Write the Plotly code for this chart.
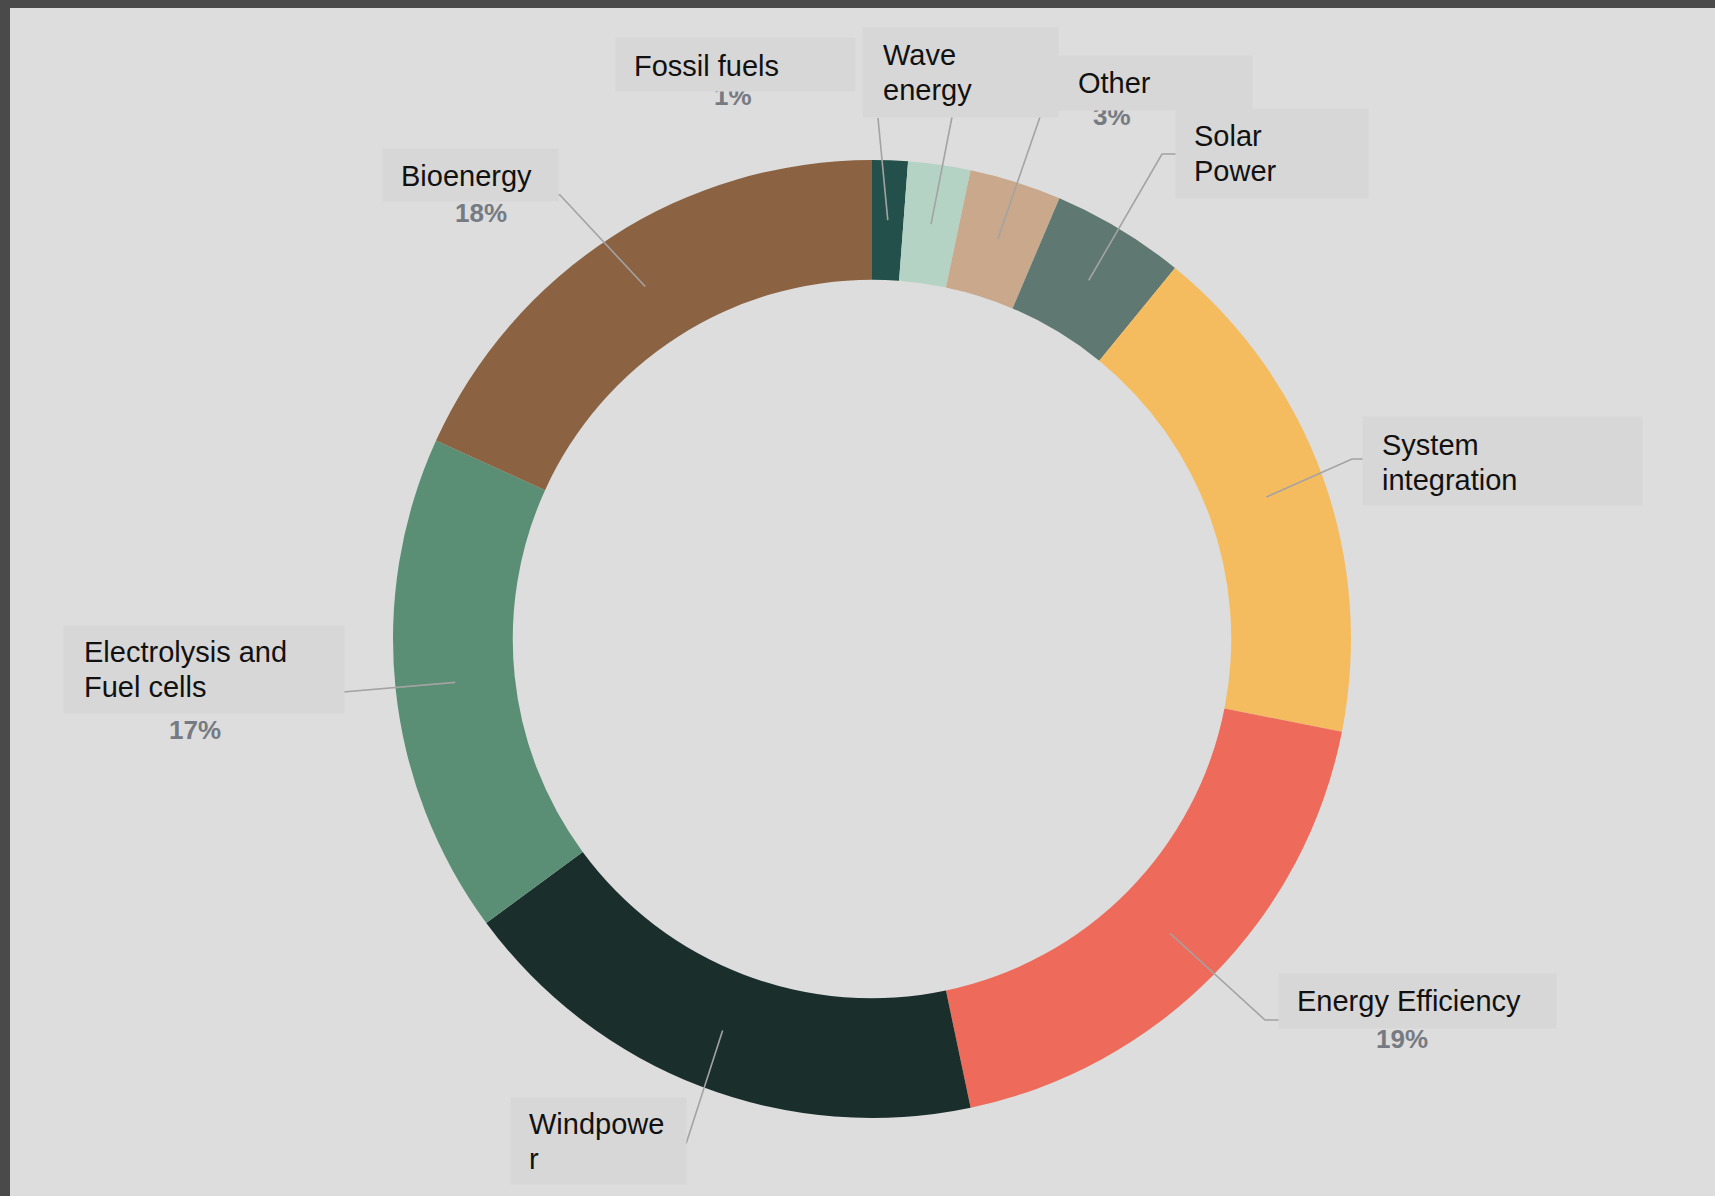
import math
import plotly.graph_objects as go

# ---------------- data ----------------
categories = ["Fossil fuels", "Wave energy", "Other", "Solar Power", "System integration",
              "Energy Efficiency", "Windpower", "Electrolysis and Fuel cells", "Bioenergy"]
values = [1.2, 2.1, 3.1, 4.5, 17.2, 18.6, 18.2, 16.9, 18.2]
label_lines = [["Fossil fuels"], ["Wave", "energy"], ["Other"], ["Solar", "Power"],
               ["System", "integration"], ["Energy Efficiency"], ["Windpowe", "r"],
               ["Electrolysis and", "Fuel cells"], ["Bioenergy"]]
pct_texts = ["1%", None, "3%", None, None, "19%", None, "17%", "18%"]
colors = ["#24504B", "#B5D3C5", "#C9A88C", "#5F7872", "#F5BC5F",
          "#EE6A5A", "#1A2E2C", "#5B8F75", "#8B6242"]

# ---------------- layout (pixels) ----------------
W, H = 1715, 1196
CX, CY, R = 872, 639, 479
HOLE = 0.75
BG = "#DCDDDC"
BOX = "#D7D7D7"
LINE_GAP = 35

# label boxes: x0, y0, x1, y1 (pixels, top-left origin)
boxes = [(615, 37, 854, 90), (862, 27, 1057, 116), (1057, 55, 1251, 109), (1175, 108, 1367, 197),
         (1362, 416, 1641, 504), (1278, 973, 1555, 1027), (510, 1097, 685, 1183),
         (63, 625, 343, 712), (382, 148, 557, 200)]
# left x and centre y of first text line
text_pos = [(632, 66), (881, 55), (1076, 83), (1192, 136), (1380, 445), (1295, 1001),
            (527, 1124), (82, 652), (399, 176)]
pct_pos = [(733, 96), None, (1112, 116), None, None, (1402, 1039), None, (195, 730), (481, 213)]
# leader line routes after the slice point (pixels)
leader_routes = [[(878, 118)], [(952, 117)], [(1040, 117)], [(1162, 154), (1176, 154)],
                 [(1352, 459), (1363, 459)], [(1265, 1020), (1279, 1020)], [(686, 1144)],
                 [(343, 692)], [(560, 195), (557, 195)]]


def px(x):
    return x / W


def py(y):
    return 1 - y / H


fig = go.Figure()
fig.add_trace(go.Pie(
    labels=categories, values=values, sort=False, direction="clockwise", rotation=0,
    hole=HOLE, marker=dict(colors=colors, line=dict(width=0)), textinfo="none",
    showlegend=False,
    domain=dict(x=[px(CX - R), px(CX + R)], y=[py(CY + R), py(CY - R)]),
))

shapes = []
# frame border
shapes.append(dict(type="rect", xref="paper", yref="paper", x0=0, x1=px(10), y0=0, y1=1,
                   fillcolor="#4A4A4A", line=dict(width=0), layer="above"))
shapes.append(dict(type="rect", xref="paper", yref="paper", x0=0, x1=1, y0=py(8), y1=1,
                   fillcolor="#4A4A4A", line=dict(width=0), layer="above"))

# leader lines from mid-ring of each slice
total = sum(values)
cum = 0
rmid = R * (1 + HOLE) / 2
for i, v in enumerate(values):
    mid = (cum + v / 2) / total * 2 * math.pi
    cum += v
    sx = CX + rmid * math.sin(mid)
    sy = CY - rmid * math.cos(mid)
    pts = [(sx, sy)] + leader_routes[i]
    path = "M " + " L ".join(f"{px(x):.5f},{py(y):.5f}" for x, y in pts)
    shapes.append(dict(type="path", xref="paper", yref="paper", path=path,
                       line=dict(color="#A3A3A3", width=1.6), layer="above"))

annotations = []
# percentages first (partially covered by boxes where overlapping)
for i, p in enumerate(pct_texts):
    if p is None:
        continue
    x, y = pct_pos[i]
    annotations.append(dict(x=px(x), y=py(y), xref="paper", yref="paper", text="<b>" + p + "</b>",
                            showarrow=False, xanchor="center", yanchor="middle",
                            font=dict(family="Liberation Sans, Arial", size=26, color="#767A82")))
# label boxes
for (x0, y0, x1, y1) in boxes:
    annotations.append(dict(x=px(x0), y=py(y0), xref="paper", yref="paper", text=" ",
                            showarrow=False, xanchor="left", yanchor="top",
                            width=x1 - x0, height=y1 - y0, bgcolor=BOX, borderpad=0,
                            font=dict(size=10)))
# label texts, one annotation per line
for i, lines in enumerate(label_lines):
    x, y = text_pos[i]
    for k, t in enumerate(lines):
        annotations.append(dict(x=px(x), y=py(y + k * LINE_GAP), xref="paper", yref="paper",
                                text=t, showarrow=False, xanchor="left", yanchor="middle",
                                align="left",
                                font=dict(family="Liberation Sans, Arial", size=29,
                                          color="#111111")))

fig.update_layout(
    width=W, height=H, margin=dict(l=0, r=0, t=0, b=0),
    paper_bgcolor=BG, plot_bgcolor=BG,
    shapes=shapes, annotations=annotations,
)

fig.write_html("out.html", config={"displayModeBar": False},
               post_script="document.body.style.margin='0';document.body.style.overflow='hidden';")
